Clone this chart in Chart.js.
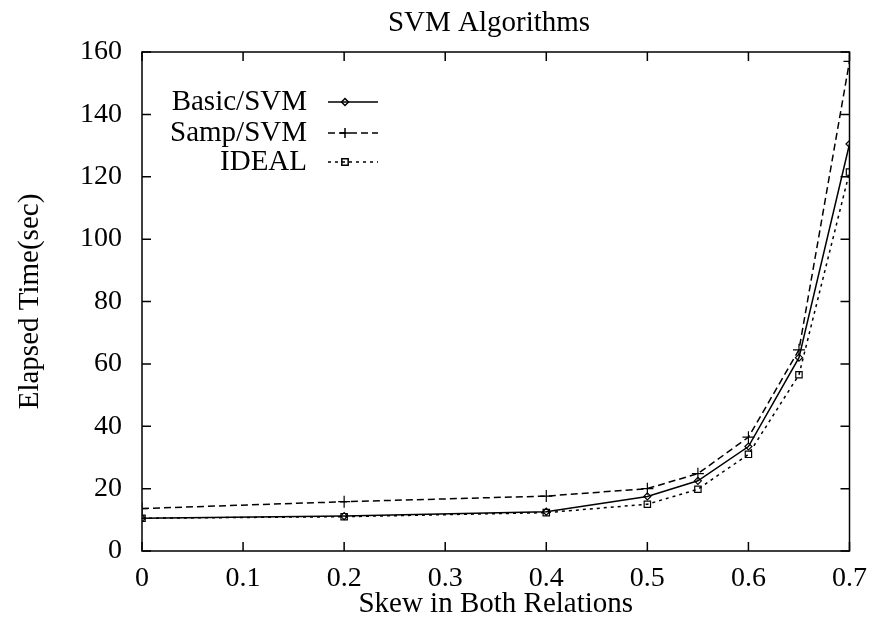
<!DOCTYPE html>
<html>
<head>
<meta charset="utf-8">
<title>SVM Algorithms</title>
<script src="https://cdn.jsdelivr.net/npm/chart.js@4.4.1/dist/chart.umd.min.js"></script>
<style>
    html, body { margin: 0; padding: 0; background: #fff; }
    #wrap { width: 878px; height: 629px; }
</style>
</head>
<body>
<div id="wrap"><canvas id="svm-chart" width="878" height="629"></canvas></div>
<script>
// skew values (x) and elapsed times
const skew = [0, 0.2, 0.4, 0.5, 0.55, 0.6, 0.65, 0.7];
const basicSvm = [10.5, 11.2, 12.6, 17.5, 22.5, 33.5, 62, 130.5];
const sampSvm = [13.6, 15.8, 17.6, 20, 24.8, 36.5, 64.5, 157];
const idealTimes = [10.5, 11, 12.3, 15, 19.8, 31, 56.5, 121.5];
const xTicks = [0, 0.1, 0.2, 0.3, 0.4, 0.5, 0.6, 0.7];
const yTicks = [0, 20, 40, 60, 80, 100, 120, 140, 160];

const FONT = "'Liberation Serif', 'Times New Roman', serif";

const toPoints = (vals) => skew.map((x, i) => ({ x: x, y: vals[i] }));

// gnuplot style frame with inward ticks on all four sides
const framePlugin = {
    id: 'frame',
    afterDatasetsDraw(chart) {
        const { ctx, chartArea: a, scales } = chart;
        ctx.save();
        ctx.strokeStyle = '#000';
        ctx.lineWidth = 1.5;
        ctx.strokeRect(a.left, a.top, a.right - a.left, a.bottom - a.top);
        const len = 9;
        ctx.beginPath();
        xTicks.forEach(v => {
            const px = scales.x.getPixelForValue(v);
            ctx.moveTo(px, a.bottom); ctx.lineTo(px, a.bottom - len);
            ctx.moveTo(px, a.top); ctx.lineTo(px, a.top + len);
        });
        yTicks.forEach(v => {
            const py = scales.y.getPixelForValue(v);
            ctx.moveTo(a.left, py); ctx.lineTo(a.left + len, py);
            ctx.moveTo(a.right, py); ctx.lineTo(a.right - len, py);
        });
        ctx.stroke();

        // title over the plot
        ctx.fillStyle = '#000';
        ctx.font = '29px ' + FONT;
        ctx.textAlign = 'center';
        ctx.textBaseline = 'middle';
        ctx.fillText('SVM Algorithms', 489, 23);
        ctx.restore();
    }
};

// legend: right aligned label, line sample with marker on its right
const keyPlugin = {
    id: 'key',
    afterDatasetsDraw(chart) {
        const { ctx } = chart;
        const rows = [102, 133, 162];
        ctx.save();
        chart.data.datasets.forEach((ds, i) => {
            const y = rows[i];
            ctx.fillStyle = '#000';
            ctx.font = '29px ' + FONT;
            ctx.textAlign = 'right';
            ctx.textBaseline = 'middle';
            ctx.fillText(ds.label, 307, y);

            ctx.strokeStyle = '#000';
            ctx.lineWidth = ds.borderWidth;
            ctx.setLineDash(ds.borderDash || []);
            ctx.beginPath();
            ctx.moveTo(328, y);
            ctx.lineTo(378, y);
            ctx.stroke();
            ctx.setLineDash([]);
            ctx.fillStyle = 'rgba(255,255,255,0)';
            Chart.helpers.drawPoint(ctx, {
                pointStyle: ds.pointStyle,
                radius: ds.pointStyle === 'cross' ? 5 : ds.pointRadius,
                borderWidth: 1.2
            }, 345, y);
        });
        ctx.restore();
    }
};

const makeSet = (label, vals, dash, style, radius) => ({
    label: label,
    data: toPoints(vals),
    borderColor: '#000',
    backgroundColor: '#fff',
    borderWidth: 1.5,
    borderDash: dash,
    pointStyle: style,
    pointRadius: radius,
    pointBorderWidth: 1.2,
    pointBackgroundColor: 'rgba(255,255,255,0)',
    pointBorderColor: '#000',
    tension: 0,
    fill: false
});

new Chart(document.getElementById('svm-chart').getContext('2d'), {
    type: 'line',
    data: {
        datasets: [
            makeSet('Basic/SVM', basicSvm, [], 'rectRot', 3.5),
            makeSet('Samp/SVM', sampSvm, [7, 4], 'cross', 6),
            makeSet('IDEAL', idealTimes, [3, 4], 'rect', 4.5)
        ]
    },
    options: {
        responsive: false,
        animation: false,
        devicePixelRatio: 1,
        layout: { padding: { top: 52, right: 27, bottom: 0, left: 0 } },
        plugins: {
            legend: { display: false },
            title: { display: false },
            tooltip: { enabled: false }
        },
        scales: {
            x: {
                type: 'linear',
                min: 0,
                max: 0.7,
                afterFit: (scale) => { scale.height = 78; },
                afterBuildTicks: (scale) => { scale.ticks = xTicks.map(v => ({ value: v })); },
                grid: { display: false, drawTicks: false },
                border: { display: false },
                ticks: {
                    color: '#000',
                    padding: 11,
                    maxRotation: 0,
                    font: { family: FONT, size: 28 },
                    callback: (v) => String(v)
                },
                title: {
                    display: true,
                    text: 'Skew in Both Relations',
                    color: '#000',
                    font: { family: FONT, size: 29 },
                    padding: { top: 0, bottom: 7 }
                }
            },
            y: {
                type: 'linear',
                min: 0,
                max: 160,
                afterFit: (scale) => { scale.width = 142; },
                afterBuildTicks: (scale) => { scale.ticks = yTicks.map(v => ({ value: v })); },
                grid: { display: false, drawTicks: false },
                border: { display: false },
                ticks: {
                    color: '#000',
                    padding: 20,
                    font: { family: FONT, size: 28 }
                },
                title: {
                    display: true,
                    text: 'Elapsed Time(sec)',
                    color: '#000',
                    font: { family: FONT, size: 29 },
                    padding: { top: 13, bottom: 0 }
                }
            }
        }
    },
    plugins: [framePlugin, keyPlugin]
});
</script>
</body>
</html>
